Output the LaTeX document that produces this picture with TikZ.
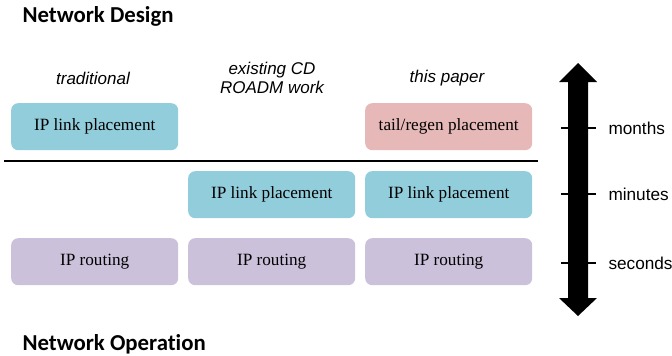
\documentclass[tikz,border=0pt]{standalone}
\usepackage{fontspec}
\setmainfont{Liberation Serif}
\newfontfamily\titlefont[Ligatures=NoCommon]{Carlito}
\newfontfamily\labfont{Liberation Sans}
\definecolor{boxblue}{HTML}{92CDDC}
\definecolor{boxpink}{HTML}{E6B9B8}
\definecolor{boxpurple}{HTML}{CCC1DA}
\begin{document}
\begin{tikzpicture}[x=1pt,y=-1pt,
  taskbox/.style={rounded corners=7pt, minimum width=167pt, minimum height=47pt, inner sep=0pt,
    font=\fontsize{17.2}{19}\selectfont, anchor=north west},
  hdr/.style={font=\labfont\itshape\fontsize{17}{19.5}\selectfont, align=center},
  title/.style={font=\titlefont\bfseries\fontsize{22.8}{26}\selectfont, anchor=west},
  scalelab/.style={font=\labfont\fontsize{17.2}{20}\selectfont, anchor=west},
  tick/.style={line width=2pt}]
\useasboundingbox (0,0) rectangle (672,356);
\node[title] (nd) at (19,16) {Network Design};
\node[title] (no) at (19,344) {Network Operation};
\node[hdr] (h1) at (93,78) {traditional};
\node[hdr] (h2) at (272,78) {existing CD\\ROADM work};
\node[hdr] (h3) at (447,78) {this paper};
\node[taskbox, fill=boxblue] (a1) at (11,103) {IP link placement};
\node[taskbox, fill=boxpink] (a3) at (365,103) {tail/regen placement};
\node[taskbox, fill=boxblue] (b2) at (188,171) {IP link placement};
\node[taskbox, fill=boxblue] (b3) at (365,171) {IP link placement};
\node[taskbox, fill=boxpurple] (c1) at (11,238) {IP routing};
\node[taskbox, fill=boxpurple] (c2) at (188,238) {IP routing};
\node[taskbox, fill=boxpurple] (c3) at (365,238) {IP routing};
\draw[line width=2.2pt] (4,161) -- (538,161);
\fill (578,63) -- (597,82) -- (588,82) -- (588,298) -- (597,298) -- (578,316)
  -- (559,298) -- (568,298) -- (568,82) -- (559,82) -- cycle;
\draw[tick] (561,128) -- (596,128);
\draw[tick] (561,194) -- (596,194);
\draw[tick] (561,263) -- (596,263);
\node[scalelab] (m) at (605,128) {months};
\node[scalelab] (mi) at (605,194) {minutes};
\node[scalelab] (s) at (605,263) {seconds};
\end{tikzpicture}
\end{document}
